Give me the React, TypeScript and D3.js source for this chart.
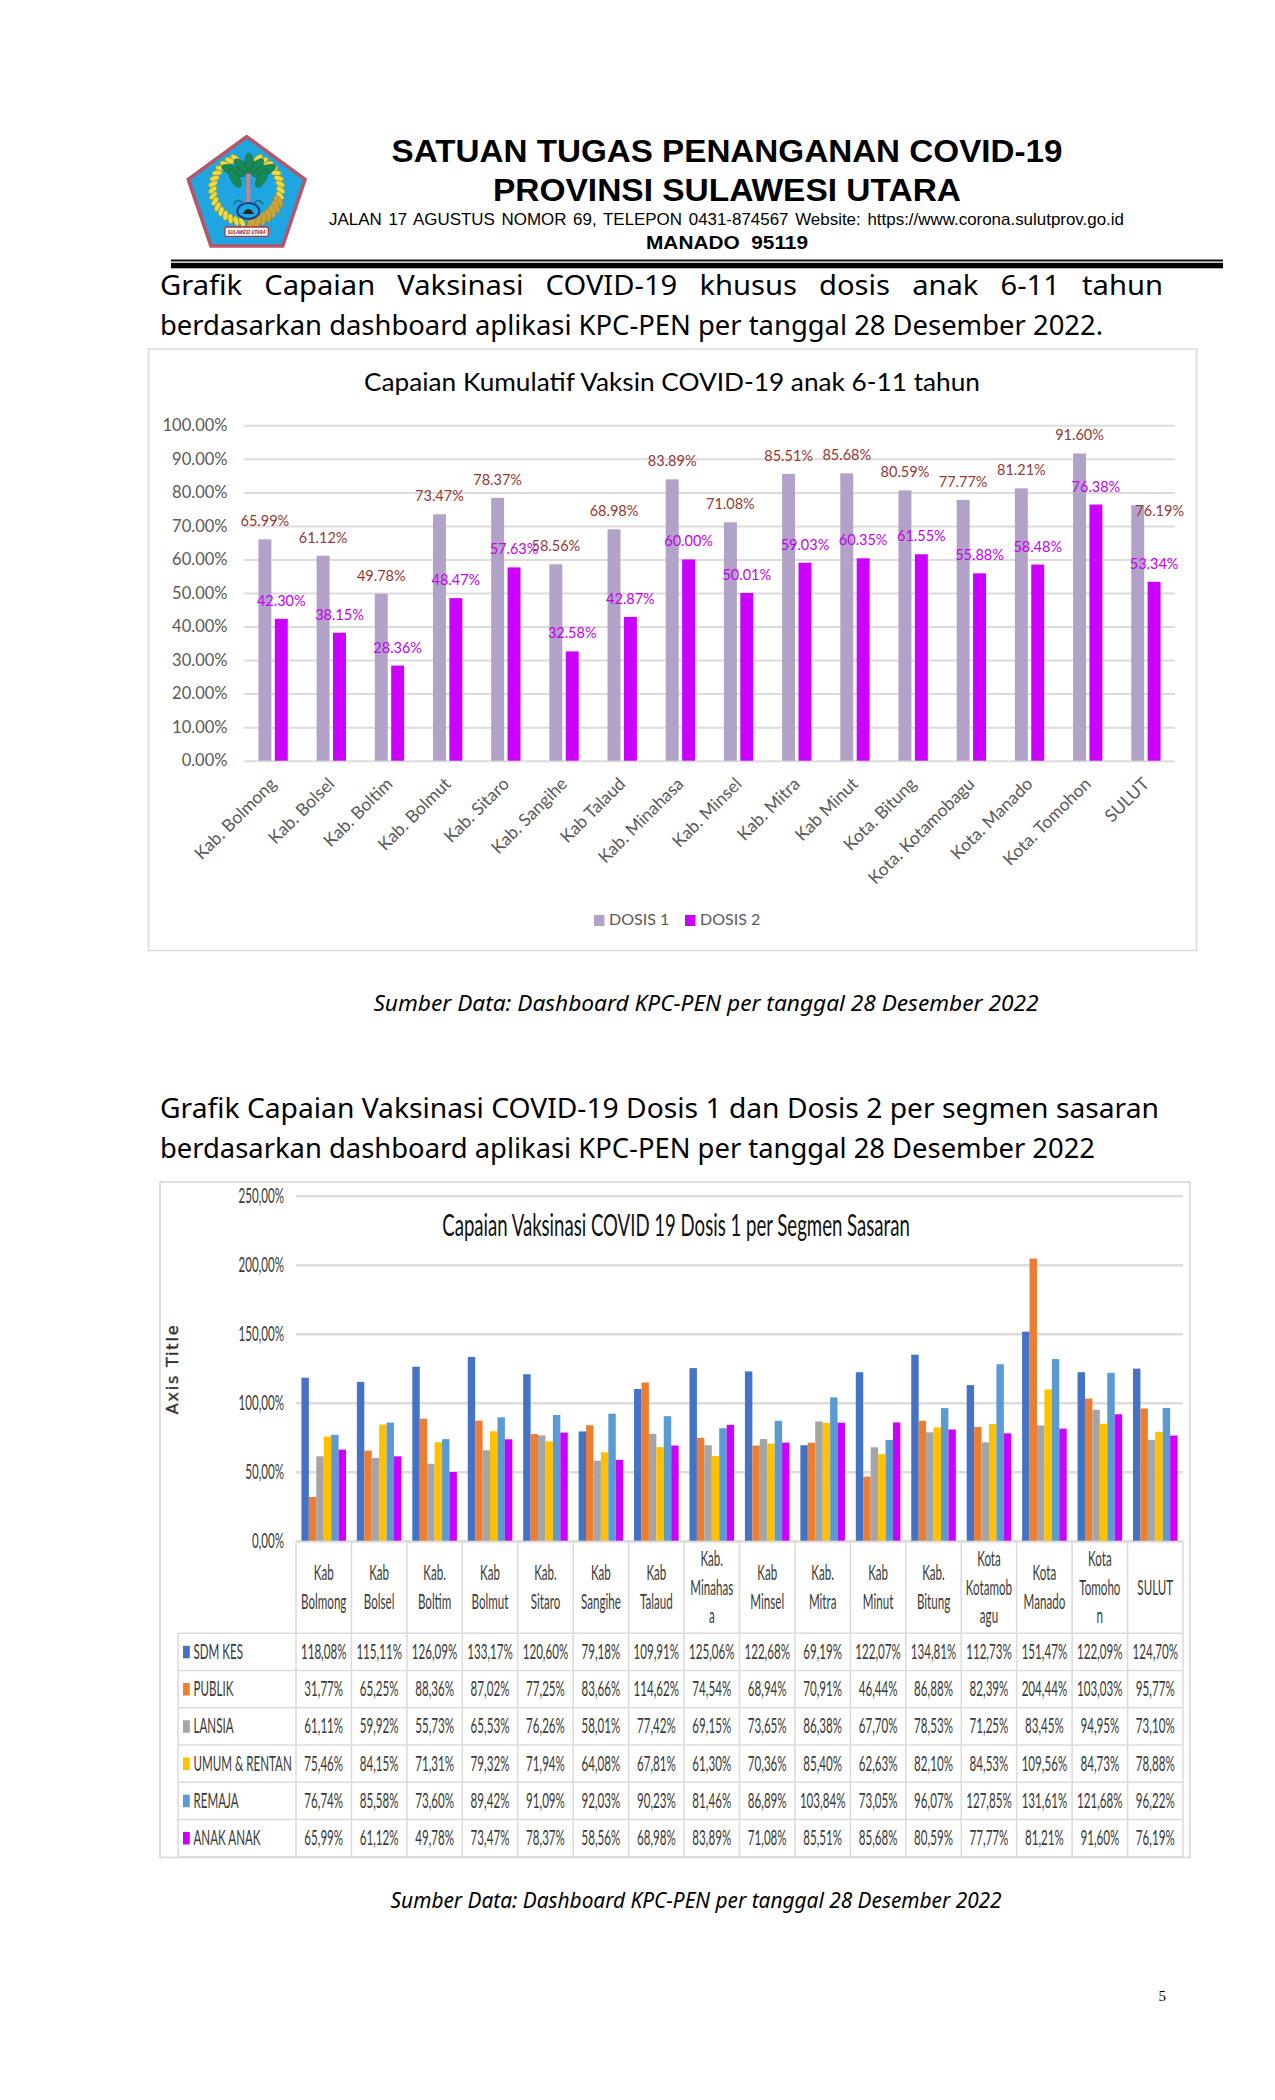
import { useEffect, useRef } from 'react';
import * as d3 from 'd3';

const regions = ['Kab. Bolmong', 'Kab. Bolsel', 'Kab. Boltim', 'Kab. Bolmut', 'Kab. Sitaro', 'Kab. Sangihe', 'Kab Talaud', 'Kab. Minahasa', 'Kab. Minsel', 'Kab. Mitra', 'Kab Minut', 'Kota. Bitung', 'Kota. Kotamobagu', 'Kota. Manado', 'Kota. Tomohon', 'SULUT'];
const dosis1 = [65.99, 61.12, 49.78, 73.47, 78.37, 58.56, 68.98, 83.89, 71.08, 85.51, 85.68, 80.59, 77.77, 81.21, 91.6, 76.19];
const dosis2 = [42.3, 38.15, 28.36, 48.47, 57.63, 32.58, 42.87, 60.0, 50.01, 59.03, 60.35, 61.55, 55.88, 58.48, 76.38, 53.34];
const doseNames = ['DOSIS 1', 'DOSIS 2'];

const tableHeaders = [['Kab', 'Bolmong'], ['Kab', 'Bolsel'], ['Kab.', 'Boltim'], ['Kab', 'Bolmut'], ['Kab.', 'Sitaro'], ['Kab', 'Sangihe'], ['Kab', 'Talaud'], ['Kab.', 'Minahas', 'a'], ['Kab', 'Minsel'], ['Kab.', 'Mitra'], ['Kab', 'Minut'], ['Kab.', 'Bitung'], ['Kota', 'Kotamob', 'agu'], ['Kota', 'Manado'], ['Kota', 'Tomoho', 'n'], ['SULUT']];
const segmentNames = ['SDM KES', 'PUBLIK', 'LANSIA', 'UMUM & RENTAN', 'REMAJA', 'ANAK ANAK'];
const sdmKes = [118.08, 115.11, 126.09, 133.17, 120.6, 79.18, 109.91, 125.06, 122.68, 69.19, 122.07, 134.81, 112.73, 151.47, 122.09, 124.7];
const publik = [31.77, 65.25, 88.36, 87.02, 77.25, 83.66, 114.62, 74.54, 68.94, 70.91, 46.44, 86.88, 82.39, 204.44, 103.03, 95.77];
const lansia = [61.11, 59.92, 55.73, 65.53, 76.26, 58.01, 77.42, 69.15, 73.65, 86.38, 67.7, 78.53, 71.25, 83.45, 94.95, 73.1];
const umumRentan = [75.46, 84.15, 71.31, 79.32, 71.94, 64.08, 67.81, 61.3, 70.36, 85.4, 62.63, 82.1, 84.53, 109.56, 84.73, 78.88];
const remaja = [76.74, 85.58, 73.6, 89.42, 91.09, 92.03, 90.23, 81.46, 86.89, 103.84, 73.05, 96.07, 127.85, 131.61, 121.68, 96.22];
const anakAnak = dosis1;
const segmentValues = [sdmKes, publik, lansia, umumRentan, remaja, anakAnak];
const segmentColors = ['#4472c4', '#ed7d31', '#a5a5a5', '#ffc000', '#5b9bd5', '#cc00ff'];

const BODY = '"Noto Sans", sans-serif';
const CALIBRI = 'Lato, sans-serif';
const GRID = '#dcdcdc';
const NARROW = 0.527;

const pct1 = (v: number) => `${d3.format('.2f')(v)}%`;
const pct2 = (v: number) => `${d3.format('.2f')(v).replace('.', ',')}%`;

function label(g: any, text: string, x: number, y: number, size: number, font: string, opts: any = {}) {
  const t = g.append('text')
    .attr('x', x).attr('y', y)
    .attr('font-family', font)
    .attr('font-size', size)
    .attr('fill', opts.fill || '#000')
    .attr('text-anchor', opts.anchor || 'start')
    .text(text);
  if (opts.weight) t.attr('font-weight', opts.weight);
  if (opts.italic) t.attr('font-style', 'italic');
  if (opts.width) t.attr('textLength', opts.width).attr('lengthAdjust', 'spacingAndGlyphs');
  if (opts.wordSpacing) t.attr('word-spacing', opts.wordSpacing);
  return t;
}

// squeezed text, the second chart is a stretched picture in the original
function narrow(g: any, text: string, x: number, y: number, size: number, anchor: string, sx = NARROW, fill = '#3a3a3a') {
  return g.append('text')
    .attr('transform', `translate(${x},${y}) scale(${sx},1)`)
    .attr('font-family', CALIBRI)
    .attr('font-size', size)
    .attr('fill', fill)
    .attr('text-anchor', anchor)
    .text(text);
}

function drawLogo(svg: any) {
  const g = svg.append('g').attr('transform', 'translate(180,130) scale(0.3333)');
  const pentagon = [[200, 20], [375, 148], [308, 348], [93, 348], [25, 148]];
  g.append('polygon').attr('points', pentagon.join(' ')).attr('fill', '#1fa5e0').attr('stroke', '#b5566a').attr('stroke-width', 11);

  // wreath leaves, left side pale, right side golden
  const leaves = g.append('g').attr('transform', 'translate(200,178)');
  const angle = d3.scaleLinear().domain([0, 15]).range([20, 172]);
  d3.range(16).forEach((i) => {
    [-1, 1].forEach((side) => {
      const a = (angle(i) * Math.PI) / 180;
      const px = side * Math.sin(a) * 102;
      const py = -Math.cos(a) * 100;
      const low = side === 1 && i > 8;
      leaves.append('ellipse')
        .attr('transform', `translate(${px},${py}) rotate(${side * angle(i) + 35 * side})`)
        .attr('rx', low ? 11 : 8).attr('ry', low ? 20 : 15)
        .attr('fill', low ? '#c9a43a' : '#eadb45')
        .attr('stroke', '#8f7d24').attr('stroke-width', 1.5);
    });
  });

  // palm
  g.append('rect').attr('x', 199).attr('y', 105).attr('width', 12).attr('height', 130).attr('fill', '#cf7f8c');
  [[-44, 122, 38, 14, 20], [-40, 145, 30, 13, 60], [-18, 108, 30, 12, 40], [46, 122, 38, 14, -20], [40, 145, 30, 13, -60], [22, 108, 30, 12, -40], [2, 95, 26, 12, 90]].forEach(([dx, cy, rx, ry, rot]) => {
    g.append('ellipse')
      .attr('transform', `translate(${205 + dx},${cy}) rotate(${rot})`)
      .attr('rx', rx).attr('ry', ry).attr('fill', '#178a55').attr('stroke', '#0f5f3a').attr('stroke-width', 1.5);
  });
  [[-30, 215], [30, 215]].forEach(([dx, cy]) => {
    g.append('path').attr('d', `M${205 + dx - 14} ${cy + 8} Q${205 + dx} ${cy - 16} ${205 + dx + 14} ${cy + 8}`).attr('fill', 'none').attr('stroke', '#1c6d6a').attr('stroke-width', 4);
  });
  g.append('ellipse').attr('cx', 205).attr('cy', 243).attr('rx', 33).attr('ry', 24).attr('fill', '#1fa5e0').attr('stroke', '#1a3f8a').attr('stroke-width', 6);
  g.append('path').attr('d', 'M188 252 Q205 222 222 252 Z').attr('fill', '#222');

  // banner
  g.append('rect').attr('x', 135).attr('y', 291).attr('width', 130).attr('height', 28).attr('rx', 4).attr('fill', '#fff').attr('stroke', '#b5333f').attr('stroke-width', 4);
  label(g, 'SULAWESI UTARA', 200, 311, 16, BODY, { anchor: 'middle', fill: '#a22', weight: 700, italic: true, width: 114 });
}

function drawHeader(svg: any) {
  drawLogo(svg);
  const head = 'Liberation Sans, Arial, sans-serif';
  label(svg, 'SATUAN TUGAS PENANGANAN COVID-19', 727, 162, 32, head, { anchor: 'middle', weight: 700, width: 671 });
  label(svg, 'PROVINSI SULAWESI UTARA', 727, 201, 32, head, { anchor: 'middle', weight: 700, width: 468 });
  label(svg, 'JALAN 17 AGUSTUS NOMOR 69, TELEPON 0431-874567 Website: https://www.corona.sulutprov.go.id', 329, 225, 17, head, { width: 795, wordSpacing: 2 });
  label(svg, 'MANADO  95119', 727, 249, 19, head, { anchor: 'middle', weight: 700, width: 162 }).attr('xml:space', 'preserve');
  svg.append('rect').attr('x', 171).attr('y', 259.5).attr('width', 1052).attr('height', 2).attr('fill', '#111');
  svg.append('rect').attr('x', 171).attr('y', 262.8).attr('width', 1052).attr('height', 5.5).attr('fill', '#000');

  label(svg, 'Grafik Capaian Vaksinasi COVID-19 khusus dosis anak 6-11 tahun', 160, 295, 28, BODY, { width: 1003, wordSpacing: 14 });
  label(svg, 'berdasarkan dashboard aplikasi KPC-PEN per tanggal 28 Desember 2022.', 160, 335, 28, BODY, { width: 943 });
}

function drawFirstChart(svg: any) {
  svg.append('rect').attr('x', 148.5).attr('y', 349).attr('width', 1048).attr('height', 601.5).attr('fill', '#fff').attr('stroke', GRID).attr('stroke-width', 1.6);
  label(svg, 'Capaian Kumulatif Vaksin COVID-19 anak 6-11 tahun', 672, 391, 25, CALIBRI, { anchor: 'middle', width: 616 });

  const left = 244;
  const right = 1175;
  const y = d3.scaleLinear().domain([0, 100]).range([760.7, 425.3]);
  const x = d3.scaleBand().domain(regions).range([left, right]);
  const xInner = d3.scaleBand().domain(doseNames).range([0, x.bandwidth()]).paddingInner(0.21).paddingOuter(0.88);

  const yAxis = svg.append('g')
    .attr('transform', `translate(${left},0)`)
    .call(d3.axisLeft(y).tickValues(d3.range(0, 101, 10)).tickFormat(pct1 as any).tickSize(-(right - left)).tickPadding(16.5));
  yAxis.select('.domain').remove();
  yAxis.selectAll('line').attr('stroke', GRID).attr('stroke-width', 2);
  yAxis.selectAll('text').attr('font-family', CALIBRI).attr('font-size', 16.5).attr('fill', '#595959');

  const xAxis = svg.append('g')
    .attr('transform', `translate(0,${y(0)})`)
    .call(d3.axisBottom(x).tickSize(0));
  xAxis.select('.domain').remove();
  xAxis.selectAll('text')
    .attr('font-family', CALIBRI).attr('font-size', 17.5).attr('fill', '#595959')
    .attr('text-anchor', 'end').attr('x', 0).attr('y', 0).attr('dy', '0.35em')
    .attr('transform', 'translate(0,20) rotate(-45)');

  const series = [dosis1, dosis2];
  const fills = ['#b3a2c7', '#cc00ff'];
  const labelFills = ['#953735', '#c400f0'];
  series.forEach((values, s) => {
    const bars = svg.append('g');
    bars.selectAll('rect').data(values).enter().append('rect')
      .attr('x', (_: number, i: number) => (x(regions[i]) || 0) + (xInner(doseNames[s]) || 0))
      .attr('y', (d: number) => y(d))
      .attr('width', xInner.bandwidth())
      .attr('height', (d: number) => y(0) - y(d))
      .attr('fill', fills[s]);
  });
  series.forEach((values, s) => {
    const texts = svg.append('g');
    texts.selectAll('text').data(values).enter().append('text')
      .attr('x', (_: number, i: number) => (x(regions[i]) || 0) + (xInner(doseNames[s]) || 0) + xInner.bandwidth() / 2)
      .attr('y', (d: number) => y(d) - 13)
      .attr('text-anchor', 'middle')
      .attr('font-family', CALIBRI).attr('font-size', 14.5)
      .attr('fill', labelFills[s])
      .text((d: number) => pct1(d));
    // the SULUT label was dragged off its bar in the original
    if (s === 0) texts.select('text:last-child').attr('dx', 22).attr('dy', 24);
  });

  // legend
  const legend = svg.append('g').attr('font-family', CALIBRI).attr('font-size', 16).attr('fill', '#595959');
  const legendX = d3.scaleOrdinal<string, number>().domain(doseNames).range([594, 685]);
  doseNames.forEach((name, s) => {
    legend.append('rect').attr('x', legendX(name)).attr('y', 915).attr('width', 10.5).attr('height', 11).attr('fill', fills[s]);
    legend.append('text').attr('x', legendX(name) + 15).attr('y', 925).text(name);
  });
  label(svg, 'Sumber Data: Dashboard KPC-PEN per tanggal 28 Desember 2022', 373.4, 1011, 21, BODY, { italic: true, width: 665 });
}

function drawSecondChart(svg: any) {
  label(svg, 'Grafik Capaian Vaksinasi COVID-19 Dosis 1 dan Dosis 2 per segmen sasaran', 160, 1118, 28, BODY, { width: 999 });
  label(svg, 'berdasarkan dashboard aplikasi KPC-PEN per tanggal 28 Desember 2022', 160, 1158, 28, BODY, { width: 935 });

  svg.append('rect').attr('x', 160).attr('y', 1182).attr('width', 1030).attr('height', 675.5).attr('fill', '#fff').attr('stroke', GRID).attr('stroke-width', 1.8);
  narrow(svg, 'Capaian Vaksinasi COVID 19 Dosis 1 per Segmen Sasaran', 676, 1236, 30, 'middle', 0.62, '#111');

  const left = 296;
  const right = 1183;
  const y = d3.scaleLinear().domain([0, 250]).range([1540.7, 1195.7]);
  const x = d3.scaleBand().domain(regions).range([left, right]);
  const xInner = d3.scaleBand().domain(segmentNames).range([0, x.bandwidth()]).paddingOuter(0.73);

  const yAxis = svg.append('g')
    .attr('transform', `translate(${left},0)`)
    .call(d3.axisLeft(y).tickValues(d3.range(0, 251, 50)).tickFormat(pct2 as any).tickSize(-(right - left)));
  yAxis.select('.domain').remove();
  yAxis.selectAll('line').attr('stroke', GRID).attr('stroke-width', 2.5);
  yAxis.selectAll('text')
    .attr('font-family', CALIBRI).attr('font-size', 22).attr('fill', '#3a3a3a')
    .attr('x', 0).attr('text-anchor', 'end')
    .attr('transform', `translate(-12,0) scale(${NARROW},1)`);

  segmentValues.forEach((values, s) => {
    svg.append('g').selectAll('rect').data(values).enter().append('rect')
      .attr('x', (_: number, i: number) => (x(regions[i]) || 0) + (xInner(segmentNames[s]) || 0))
      .attr('y', (d: number) => y(d))
      .attr('width', xInner.bandwidth())
      .attr('height', (d: number) => y(0) - y(d))
      .attr('fill', segmentColors[s]);
  });

  // axis title
  svg.append('text')
    .attr('transform', 'translate(178,1369) rotate(-90)')
    .attr('text-anchor', 'middle')
    .attr('font-family', '"DejaVu Sans", sans-serif')
    .attr('font-size', 16).attr('letter-spacing', 1.8)
    .attr('fill', '#333').attr('stroke', '#333').attr('stroke-width', 0.4)
    .text('Axis Title');

  // data table under the bars
  const tableTop = 1541.7;
  const headerBottom = 1633.3;
  const tableBottom = 1856.7;
  const rowLeft = 178;
  const row = d3.scaleBand().domain(segmentNames).range([headerBottom, tableBottom]);
  const table = svg.append('g');
  const rule = (x1: number, y1: number, x2: number, y2: number) =>
    table.append('line').attr('x1', x1).attr('y1', y1).attr('x2', x2).attr('y2', y2).attr('stroke', GRID).attr('stroke-width', 1.6);

  [...regions.map((r) => x(r) || 0), right].forEach((cx) => rule(cx, tableTop, cx, tableBottom));
  rule(rowLeft, headerBottom, rowLeft, tableBottom);
  rule(left, tableTop, right, tableTop);
  segmentNames.forEach((name) => rule(rowLeft, row(name) || 0, right, row(name) || 0));
  rule(rowLeft, tableBottom, right, tableBottom);

  regions.forEach((r, i) => {
    const cx = (x(r) || 0) + x.bandwidth() / 2;
    const lines = tableHeaders[i];
    const first = 1594.5 - ((lines.length - 1) * 28.3) / 2;
    lines.forEach((line, l) => narrow(table, line, cx, first + l * 28.3, 22, 'middle'));
  });

  segmentNames.forEach((name, s) => {
    const top = row(name) || 0;
    const baseline = top + row.bandwidth() / 2 + 7;
    table.append('rect').attr('x', 183).attr('y', top + 12.5).attr('width', 6.8).attr('height', 12.5).attr('fill', segmentColors[s]);
    narrow(table, name, 193.5, baseline, 22, 'start');
    segmentValues[s].forEach((v, i) => {
      narrow(table, pct2(v), (x(regions[i]) || 0) + x.bandwidth() / 2, baseline, 22, 'middle');
    });
  });

  label(svg, 'Sumber Data: Dashboard KPC-PEN per tanggal 28 Desember 2022', 390.6, 1908, 21, BODY, { italic: true, width: 611 });
  label(svg, '5', 1158.6, 2001, 15, '"Liberation Serif", serif');
}

export default function App() {
  const svgRef = useRef<SVGSVGElement>(null);

  useEffect(() => {
    if (svgRef.current === null) return;
    const svg = d3.select(svgRef.current);
    svg.selectAll('*').remove();
    svg.append('rect').attr('width', 1275).attr('height', 2100).attr('fill', '#fff');
    drawHeader(svg);
    drawFirstChart(svg);
    drawSecondChart(svg);
  }, []);

  return <svg ref={svgRef} width={1275} height={2100} style={{ position: 'absolute', left: 0, top: 0, display: 'block' }} />;
}
